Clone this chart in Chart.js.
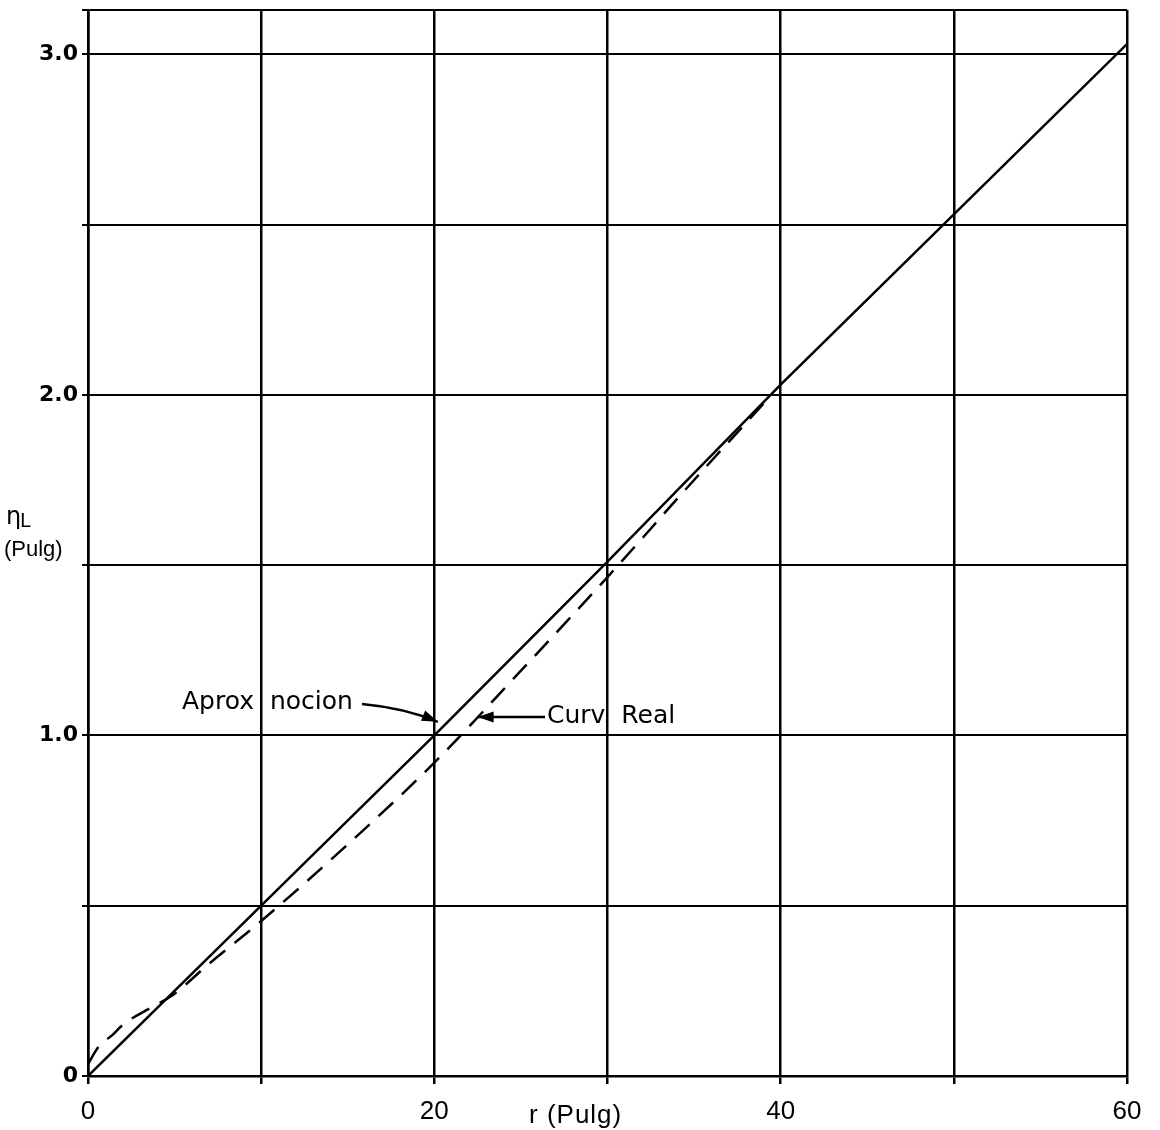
<!DOCTYPE html>
<html>
<head>
<meta charset="utf-8">
<script src="https://cdn.jsdelivr.net/npm/chart.js@4.4.1/dist/chart.umd.min.js"></script>
<style>
  html, body { margin: 0; padding: 0; background: #fff; }
  #wrap { width: 1160px; height: 1130px; }
</style>
</head>
<body>
<div id="wrap"><canvas id="chart" width="1160" height="1130"></canvas></div>
<script>
// aproximacion (recta)
const aproxR = [0, 10, 20, 30, 40, 50, 60];
const aproxH = [0, 0.5, 1.0, 1.51, 2.03, 2.53, 3.03];

// curva real (discontinua)
const realR = [0, 0.6, 1.4, 2, 3.4, 4.9, 7, 10, 15, 20, 25, 30, 35, 39.3];
const realH = [0.035, 0.085, 0.12, 0.15, 0.194, 0.238, 0.33, 0.455, 0.68, 0.92, 1.19, 1.465, 1.75, 1.99];

const xLabels = { 0: '0', 20: '20', 40: '40', 60: '60' };
const yLabels = { 0: '0', 1: '1.0', 2: '2.0', 3: '3.0' };

const FONT = "'DejaVu Sans', sans-serif";
const NARROW = "'Liberation Sans Narrow', 'Liberation Sans', sans-serif";

function toPoints(xs, ys) {
  return xs.map((x, i) => ({ x: x, y: ys[i] }));
}

function arrowHead(ctx, x, y, angle, size) {
  ctx.save();
  ctx.translate(x, y);
  ctx.rotate(angle);
  ctx.beginPath();
  ctx.moveTo(0, 0);
  ctx.lineTo(-size, -size * 0.35);
  ctx.lineTo(-size, size * 0.35);
  ctx.closePath();
  ctx.fill();
  ctx.restore();
}

const labelsPlugin = {
  id: 'labels',
  afterDraw(chart) {
    const ctx = chart.ctx;
    const xs = chart.scales.x, ys = chart.scales.y;
    ctx.save();
    ctx.fillStyle = '#000';
    ctx.strokeStyle = '#000';
    ctx.textBaseline = 'middle';

    // titulo eje x
    ctx.font = '26px ' + NARROW;
    ctx.textAlign = 'left';
    ctx.letterSpacing = '1px';
    ctx.fillText('r (Pulg)', 529, 1116);
    ctx.letterSpacing = '0px';

    // titulo eje y
    ctx.font = '24px ' + FONT;
    ctx.fillText('η', 6, 518);
    ctx.font = '19px ' + FONT;
    ctx.fillText('L', 20, 522);
    ctx.font = '22px ' + NARROW;
    ctx.fillText('(Pulg)', 4, 550);

    // anotaciones
    ctx.font = '25px ' + FONT;
    ctx.fillText('Aprox  nocion', 182, 702);
    ctx.fillText('Curv  Real', 547, 716);

    ctx.lineWidth = 2.5;
    const tx = xs.getPixelForValue(20.2), ty = ys.getPixelForValue(1.04);
    ctx.beginPath();
    ctx.moveTo(362, 704);
    ctx.quadraticCurveTo(405, 708, tx, ty);
    ctx.stroke();
    arrowHead(ctx, tx, ty, Math.atan2(ty - 708, tx - 405), 16);

    const ax = xs.getPixelForValue(22.5), ay = 717;
    ctx.beginPath();
    ctx.moveTo(545, ay);
    ctx.lineTo(ax, ay);
    ctx.stroke();
    arrowHead(ctx, ax, ay, Math.PI, 16);
    ctx.restore();
  }
};

new Chart(document.getElementById('chart'), {
  type: 'scatter',
  data: {
    datasets: [
      {
        label: 'Aprox nocion',
        data: toPoints(aproxR, aproxH),
        showLine: true,
        borderColor: '#000',
        borderWidth: 2.5,
        pointRadius: 0,
        fill: false,
      },
      {
        label: 'Curv Real',
        data: toPoints(realR, realH),
        showLine: true,
        borderColor: '#000',
        borderWidth: 2.5,
        borderDash: [20, 12],
        cubicInterpolationMode: 'monotone',
        pointRadius: 0,
        fill: false,
      },
    ],
  },
  options: {
    responsive: false,
    animation: false,
    layout: { padding: { left: 0, right: 33, top: 10, bottom: 0 } },
    plugins: {
      legend: { display: false },
      tooltip: { enabled: false },
    },
    scales: {
      x: {
        type: 'linear',
        min: 0,
        max: 60,
        afterFit(scale) { scale.height = 54; },
        ticks: {
          stepSize: 10,
          color: '#000',
          font: { family: NARROW, size: 26 },
          padding: 12,
          maxRotation: 0,
          callback: (v) => (xLabels[v] !== undefined ? xLabels[v] : ''),
        },
        grid: { color: '#000', lineWidth: 2.5, tickLength: 8 },
        border: { color: '#000', width: 2.5 },
      },
      y: {
        type: 'linear',
        min: 0,
        max: 3.13,
        afterFit(scale) { scale.width = 88; scale.paddingTop = 0; },
        ticks: {
          stepSize: 0.5,
          color: '#000',
          font: { family: FONT, size: 22, weight: 'bold' },
          padding: 4,
          callback: (v) => (yLabels[v] !== undefined ? yLabels[v] : ''),
        },
        grid: { color: '#000', lineWidth: 2, tickLength: 6 },
        border: { color: '#000', width: 2.5 },
      },
    },
  },
  plugins: [labelsPlugin],
});
</script>
</body>
</html>
